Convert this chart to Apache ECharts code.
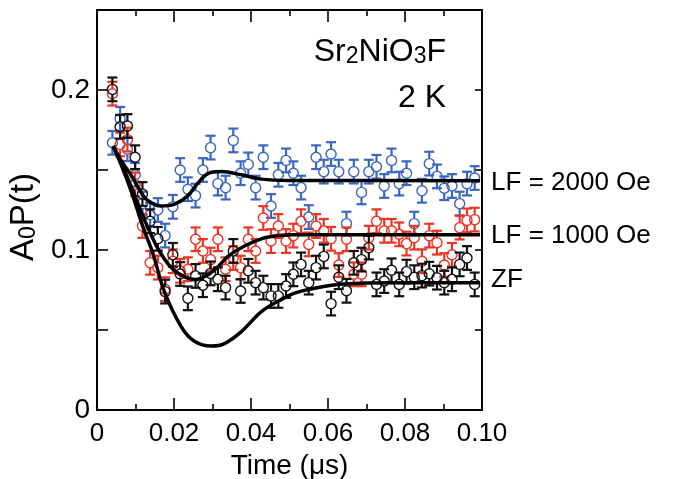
<!DOCTYPE html>
<html>
<head>
<meta charset="utf-8">
<script src="https://cdn.jsdelivr.net/npm/echarts@6/dist/echarts.min.js"></script>
<style>html,body{margin:0;padding:0;background:#fff;}#c{width:675px;height:479px;}</style>
</head>
<body>
<div id="c"></div>
<script>
// ---- data ----
const time = [0.0040,0.0060,0.0079,0.0099,0.0118,0.0138,0.0158,0.0177,0.0197,0.0216,0.0236,0.0256,0.0275,0.0295,0.0314,0.0334,0.0354,0.0373,0.0393,0.0412,0.0432,0.0452,0.0471,0.0491,0.0510,0.0530,0.0550,0.0569,0.0589,0.0608,0.0628,0.0648,0.0667,0.0687,0.0706,0.0726,0.0746,0.0765,0.0785,0.0804,0.0824,0.0844,0.0863,0.0883,0.0902,0.0922,0.0942,0.0961,0.0981];
const lf2000 = [0.167,0.182,0.163,0.147,0.129,0.122,0.125,0.109,0.127,0.150,0.138,0.134,0.150,0.164,0.1415,0.139,0.1685,0.148,0.1535,0.139,0.158,0.1275,0.147,0.156,0.148,0.139,0.1206,0.158,0.149,0.160,0.149,0.1165,0.149,0.136,0.149,0.152,0.140,0.156,0.1415,0.148,0.1165,0.137,0.154,0.146,0.1386,0.140,0.129,0.1415,0.145];
const lf1000 = [0.1977,0.166,0.169,0.141,0.115,0.092,0.089,0.0755,0.093,0.087,0.088,0.1067,0.0994,0.094,0.1067,0.088,0.095,0.089,0.1067,0.0994,0.120,0.1056,0.115,0.1056,0.109,0.118,0.1035,0.115,0.112,0.107,0.0906,0.1067,0.0848,0.0848,0.1077,0.118,0.112,0.112,0.1098,0.104,0.1077,0.093,0.109,0.1046,0.0906,0.097,0.114,0.1185,0.119];
const zf = [0.2004,0.177,0.1775,0.158,0.135,0.118,0.107,0.074,0.097,0.085,0.0698,0.0838,0.078,0.0854,0.0817,0.0765,0.0994,0.0744,0.087,0.0796,0.0765,0.0713,0.0713,0.0775,0.0848,0.091,0.0796,0.089,0.096,0.0665,0.083,0.0745,0.092,0.094,0.1015,0.0785,0.0806,0.0873,0.0785,0.0865,0.083,0.084,0.0852,0.0827,0.0796,0.0817,0.091,0.095,0.0785];
const ERR = 0.0074; // error bar half-height (uniform)

// fitted curves
const fitTimeLF2000 = [0.0042,0.0065,0.0088,0.0123,0.0145,0.0166,0.0200,0.0235,0.0261,0.0288,0.0323,0.0375,0.0427,0.0500,0.0995];
const fitLF2000     = [0.165,0.155,0.147,0.133,0.129,0.1275,0.1285,0.1337,0.1415,0.1477,0.149,0.147,0.1443,0.1435,0.1433];
const fitTimeLF1000 = [0.0042,0.0065,0.0090,0.0123,0.0158,0.0193,0.0232,0.0256,0.0285,0.0314,0.0340,0.0383,0.0427,0.0470,0.0513,0.0600,0.0995];
const fitLF1000     = [0.165,0.153,0.139,0.119,0.101,0.089,0.0827,0.0815,0.084,0.0895,0.096,0.1025,0.107,0.109,0.1096,0.1096,0.1095];
const fitTimeZF     = [0.0042,0.0065,0.0090,0.0120,0.0145,0.0175,0.0219,0.0253,0.0297,0.0331,0.0375,0.0427,0.0478,0.0513,0.0552,0.0630,0.0700,0.0800,0.0995];
const fitZF         = [0.165,0.152,0.136,0.114,0.098,0.074,0.052,0.043,0.040,0.0415,0.049,0.0615,0.069,0.073,0.0755,0.0786,0.0793,0.0796,0.0796];

const xTickLabels = ['0','0.02','0.04','0.06','0.08','0.10'];
const yTickLabels = ['0','0.1','0.2'];
const curveNames = ['LF = 2000 Oe','LF = 1000 Oe','ZF'];

// ---- chart ----
const FONT = "'Liberation Sans', Arial, Helvetica, sans-serif";
const BLUE = '#3a66c2', RED = '#ee3322', BLACK = '#111111';

function pairs(xs, ys){ return xs.map((x,i)=>[x, ys[i]]); }

function errRender(color){
  return function(params, api){
    const x = api.value(0), y = api.value(1);
    const c = api.coord([x, y]);
    const hi = api.coord([x, y + ERR]);
    const lo = api.coord([x, y - ERR]);
    const r = 5, cw = 5;
    const ls = {stroke: color, lineWidth: 2.2};
    return {type:'group', children:[
      {type:'line', shape:{x1:c[0], y1:hi[1], x2:c[0], y2:c[1]-r}, style:ls},
      {type:'line', shape:{x1:c[0], y1:c[1]+r, x2:c[0], y2:lo[1]}, style:ls},
      {type:'line', shape:{x1:c[0]-cw, y1:hi[1], x2:c[0]+cw, y2:hi[1]}, style:ls},
      {type:'line', shape:{x1:c[0]-cw, y1:lo[1], x2:c[0]+cw, y2:lo[1]}, style:ls},
      {type:'circle', shape:{cx:c[0], cy:c[1], r:r}, style:{stroke:color, fill:'none', lineWidth:1.4}}
    ]};
  };
}

function errSeries(vals, color){
  return {type:'custom', xAxisIndex:0, yAxisIndex:0, data: pairs(time, vals),
    encode:{x:0, y:1}, renderItem: errRender(color), z:2, silent:true};
}

function curveSeries(xs, ys, name, dy){
  return {type:'line', xAxisIndex:0, yAxisIndex:0, data: pairs(xs, ys), showSymbol:false, symbol:'none',
    smooth:0.35, lineStyle:{color:'#000', width:3.5}, z:5, silent:true,
    endLabel:{show:true, formatter:name, distance:11, offset:[0,dy], color:'#000', fontSize:26, fontFamily:FONT}};
}

const axisLineStyle = {color:'#000', width:2};
const chart = echarts.init(document.getElementById('c'), null, {renderer:'canvas'});
chart.setOption({
  animation:false,
  backgroundColor:'#fff',
  grid:{left:97, right:193, top:10, bottom:69, containLabel:false, outerBoundsMode:'none'},
  xAxis:[
    {type:'value', position:'bottom', min:0, max:0.1, interval:0.02,
     axisLine:{show:true, onZero:false, lineStyle:axisLineStyle},
     axisTick:{show:true, inside:true, length:12, lineStyle:{color:'#000', width:1.6}},
     minorTick:{show:true, splitNumber:2, length:6, lineStyle:{color:'#000', width:1.6}},
     splitLine:{show:false},
     axisLabel:{margin:11, color:'#000', fontSize:26, fontFamily:FONT,
       formatter:function(v){ const k=Math.round(v/0.02); return xTickLabels[k] !== undefined ? xTickLabels[k] : ''; }},
     name:'Time (\u03bcs)', nameLocation:'middle', nameGap:38,
     nameTextStyle:{color:'#000', fontSize:28, fontFamily:FONT}},
    {type:'value', position:'top', min:0, max:0.1, interval:0.02,
     axisLine:{show:true, onZero:false, lineStyle:axisLineStyle},
     axisTick:{show:true, inside:true, length:12, lineStyle:{color:'#000', width:1.6}},
     minorTick:{show:true, splitNumber:2, length:6, lineStyle:{color:'#000', width:1.6}},
     splitLine:{show:false}, axisLabel:{show:false}}
  ],
  yAxis:[
    {type:'value', position:'left', min:0, max:0.25, interval:0.05,
     axisLine:{show:true, onZero:false, lineStyle:axisLineStyle},
     axisTick:{show:true, inside:true, length:11, lineStyle:{color:'#000', width:1.6}},
     splitLine:{show:false},
     axisLabel:{margin:7, color:'#000', fontSize:28, fontFamily:FONT,
       formatter:function(v){ const k=Math.round(v/0.05); return (k%2===0 && yTickLabels[k/2]!==undefined) ? yTickLabels[k/2] : ''; }},
     name:'{a|A}{b|0}{a|P(t)}', nameLocation:'middle', nameGap:49,
     nameTextStyle:{color:'#000', fontSize:33, fontFamily:FONT, padding:[0,14,0,0],
       rich:{a:{fontSize:33, fontFamily:FONT, color:'#000', lineHeight:33, verticalAlign:'bottom'},
             b:{fontSize:23, fontFamily:FONT, color:'#000', lineHeight:23, verticalAlign:'bottom'}}}},
    {type:'value', position:'right', min:0, max:0.25, interval:0.05,
     axisLine:{show:true, onZero:false, lineStyle:axisLineStyle},
     axisTick:{show:true, inside:true, length:7, lineStyle:{color:'#000', width:1.6}},
     splitLine:{show:false}, axisLabel:{show:false}}
  ],
  series:[
    errSeries(lf2000, BLUE),
    errSeries(lf1000, RED),
    errSeries(zf, BLACK),
    curveSeries(fitTimeLF2000, fitLF2000, curveNames[0], 2),
    curveSeries(fitTimeLF1000, fitLF1000, curveNames[1], 1),
    curveSeries(fitTimeZF, fitZF, curveNames[2], -3)
  ],
  graphic:[
    {type:'text', x:446, y:36, z:10, silent:true,
     style:{text:'{a|Sr}{s|2}{a|NiO}{s|3}{a|F}', align:'right', verticalAlign:'top', fill:'#000',
       font:'32px '+FONT,
       rich:{a:{fontSize:32, fontFamily:FONT, fill:'#000', lineHeight:32, verticalAlign:'bottom'},
             s:{fontSize:23, fontFamily:FONT, fill:'#000', lineHeight:20, verticalAlign:'bottom'}}}},
    {type:'text', x:446, y:82, z:10, silent:true,
     style:{text:'2 K', align:'right', verticalAlign:'top', fill:'#000', font:'32px '+FONT}}
  ]
});
</script>
</body>
</html>
